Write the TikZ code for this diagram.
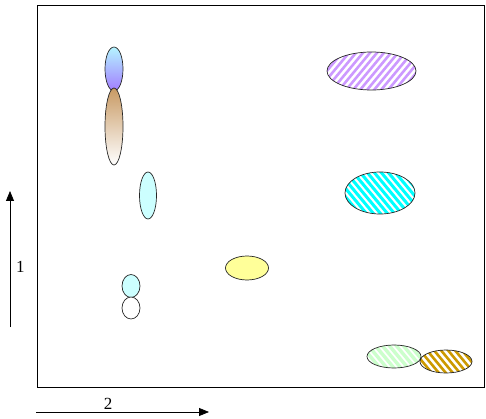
\documentclass[tikz,border=0pt]{standalone}
\usepackage{fontspec}
\setmainfont{Liberation Serif}
\usetikzlibrary{shapes.geometric,arrows.meta,calc}
\definecolor{lcyan}{HTML}{CCFFFF}
\definecolor{gtop}{HTML}{B4F4FF}
\definecolor{gbot}{HTML}{A27CFF}
\definecolor{brownt}{HTML}{C89A64}
\definecolor{lyellow}{HTML}{FFFF99}
\definecolor{hpurple}{HTML}{CC99FF}
\definecolor{hcyan}{HTML}{00FFFF}
\definecolor{hgreen}{HTML}{CCFFCC}
\definecolor{horange}{HTML}{CC9900}
\tikzset{
  blob/.style={ellipse, draw=black!85, line width=0.7pt, inner sep=0pt, minimum width=#1},
  hatchne/.style 2 args={path picture={
      \foreach \i in {-120,-113,...,120}
        \draw[#1, line width=#2] ($(path picture bounding box.center)+(\i pt,-40pt)$) -- ++(60pt,72pt);}},
  hatchnw/.style 2 args={path picture={
      \foreach \i in {-120,-113,...,120}
        \draw[#1, line width=#2] ($(path picture bounding box.center)+(\i pt,40pt)$) -- ++(60pt,-72pt);}},
  axis/.style={draw=black, line width=0.8pt, -{Triangle[length=10pt,width=8pt]}},
  lab/.style={font=\fontsize{17}{17}\selectfont, inner sep=0pt}
}
\begin{document}
\begin{tikzpicture}[x=1pt,y=-1pt]
\useasboundingbox (0,0) rectangle (486,419);
\draw[line width=0.8pt] (37,5) rectangle (484,387);
% gradient ellipses
\node[blob=18pt, minimum height=44pt, top color=gtop, bottom color=gbot] (e1) at (114,69) {};
\node[blob=18pt, minimum height=77pt, top color=brownt, bottom color=white] (e2) at (114,126.5) {};
\node[blob=17pt, minimum height=47pt, fill=lcyan] (e3) at (148,195.5) {};
\node[blob=18pt, minimum height=23pt, fill=lcyan] (e4) at (131,286) {};
\node[blob=18pt, minimum height=22pt, fill=white] (e5) at (131,308) {};
\node[blob=43pt, minimum height=24pt, fill=lyellow] (e6) at (247,268) {};
% hatched ellipses
\node[blob=89pt, minimum height=38pt, hatchne={hpurple}{2.6pt}] (e7) at (371.5,71) {};
\node[blob=70pt, minimum height=42pt, hatchnw={hcyan}{3pt}] (e8) at (380,193) {};
\node[blob=54pt, minimum height=23pt, hatchnw={hgreen}{3.4pt}] (e9) at (394,356.5) {};
\node[blob=52pt, minimum height=23pt, hatchnw={horange}{2.6pt}] (e10) at (446,361.5) {};
% axes
\coordinate (a1s) at (10,327);
\coordinate (a1e) at (10,191);
\coordinate (a2s) at (36,412);
\coordinate (a2e) at (209,412);
\draw[axis] (a1s) -- (a1e);
\draw[axis] (a2s) -- (a2e);
\node[lab] (l1) at (20.5,267) {1};
\node[lab] (l2) at (108,404) {2};
\end{tikzpicture}
\end{document}
